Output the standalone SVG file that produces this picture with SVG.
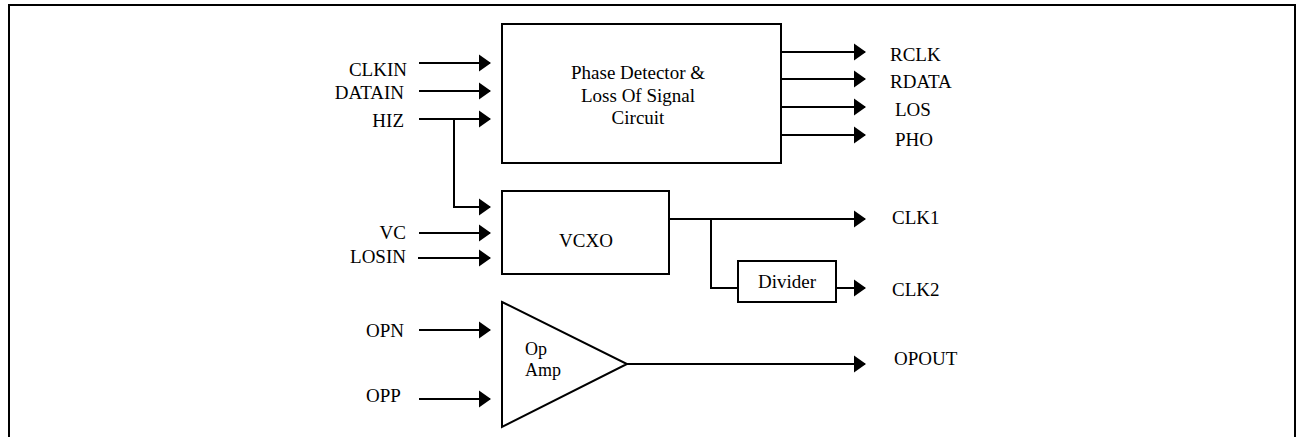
<svg xmlns="http://www.w3.org/2000/svg" width="1296" height="437" viewBox="0 0 1296 437">
<style>
.ln{fill:none;stroke:#000;stroke-width:2}
.bx{fill:#fff;stroke:#000;stroke-width:2}
.t{font-family:'Liberation Serif','DejaVu Serif','Noto Serif',serif;font-size:19px;fill:#000}
.m{text-anchor:middle}
.e{text-anchor:end}
</style>
<defs>
<marker id="ah" markerUnits="userSpaceOnUse" markerWidth="13" markerHeight="17" refX="11" refY="8.5" orient="auto" overflow="visible">
<path d="M0,0 L12,8.5 L0,17 z" fill="#000"/>
</marker>
</defs>
<path class="ln" d="M9,437 V5 H1295 V437"/>
<g id="connectors">
<path class="ln" d="M419,63 H490" marker-end="url(#ah)"/>
<path class="ln" d="M419,91 H490" marker-end="url(#ah)"/>
<path class="ln" d="M419,119 H490" marker-end="url(#ah)"/>
<path class="ln" d="M454,119 V207 H490" marker-end="url(#ah)"/>
<path class="ln" d="M419,233 H490" marker-end="url(#ah)"/>
<path class="ln" d="M418,258 H490" marker-end="url(#ah)"/>
<path class="ln" d="M419,330 H490" marker-end="url(#ah)"/>
<path class="ln" d="M419,399 H490" marker-end="url(#ah)"/>
<path class="ln" d="M781,52 H865" marker-end="url(#ah)"/>
<path class="ln" d="M781,79 H865" marker-end="url(#ah)"/>
<path class="ln" d="M781,107 H865" marker-end="url(#ah)"/>
<path class="ln" d="M781,135 H865" marker-end="url(#ah)"/>
<path class="ln" d="M669,219 H865" marker-end="url(#ah)"/>
<path class="ln" d="M711,219 V288 H738"/>
<path class="ln" d="M836,288 H865" marker-end="url(#ah)"/>
<path class="ln" d="M627,364 H865" marker-end="url(#ah)"/>
</g>
<g id="pd">
<rect class="bx" x="502" y="24" width="279" height="139"/>
<text class="t m" x="638" y="79" font-family="Liberation Serif, serif">Phase Detector &amp;</text>
<text class="t m" x="638" y="102" font-family="Liberation Serif, serif">Loss Of Signal</text>
<text class="t m" x="638" y="124" font-family="Liberation Serif, serif">Circuit</text>
</g>
<g id="vcxo">
<rect class="bx" x="502" y="191" width="167" height="83"/>
<text class="t m" x="586" y="247">VCXO</text>
</g>
<g id="divider">
<rect class="bx" x="738" y="261" width="98" height="41"/>
<text class="t m" x="787" y="288">Divider</text>
</g>
<g id="opamp">
<path class="bx" d="M502,302 L627,364 L502,427 Z"/>
<text class="t" x="525" y="355" style="font-size:18px">Op</text>
<text class="t" x="525" y="376" style="font-size:18px">Amp</text>
</g>
<g id="labels">
<text class="t e" x="407" y="76">CLKIN</text>
<text class="t e" x="404" y="99">DATAIN</text>
<text class="t e" x="404" y="127">HIZ</text>
<text class="t e" x="406" y="239">VC</text>
<text class="t e" x="406" y="263">LOSIN</text>
<text class="t" x="366" y="337">OPN</text>
<text class="t" x="366" y="402">OPP</text>
<text class="t" x="890" y="61">RCLK</text>
<text class="t" x="890" y="88">RDATA</text>
<text class="t" x="895" y="116">LOS</text>
<text class="t" x="895" y="146">PHO</text>
<text class="t" x="892" y="224">CLK1</text>
<text class="t" x="892" y="296">CLK2</text>
<text class="t" x="894" y="365">OPOUT</text>
</g>
</svg>
